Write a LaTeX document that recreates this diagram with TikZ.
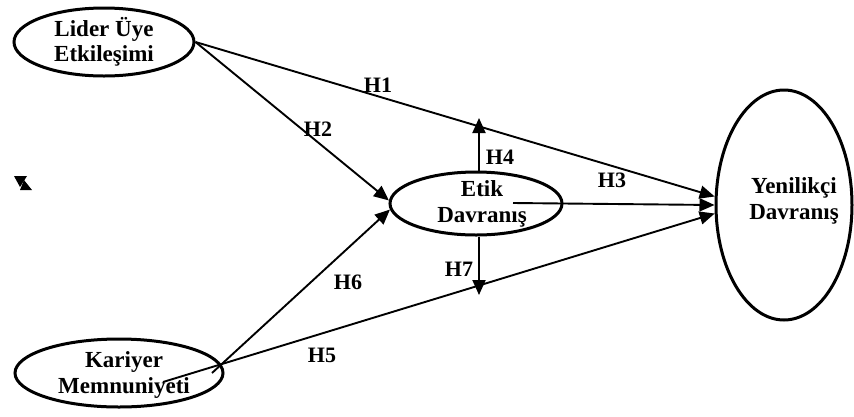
\documentclass[tikz,border=0pt]{standalone}
\usepackage{fontspec}
\setmainfont{Liberation Serif}
\usetikzlibrary{shapes.geometric,arrows.meta}
\begin{document}
\begin{tikzpicture}[x=1pt,y=-1pt,
 construct/.style={ellipse,draw,line width=3pt,inner sep=0pt},
 txt/.style={font=\fontsize{23}{25.5}\selectfont\bfseries,align=center,inner sep=0pt},
 hyp/.style={line width=1.9pt,-{Triangle[length=15pt,width=13pt]}},
 lbl/.style={font=\fontsize{22}{26}\selectfont\bfseries,inner sep=0pt}]
\useasboundingbox[fill=white] (0,0) rectangle (854,416);
% constructs
\node[construct,minimum width=180pt,minimum height=68pt] (lider) at (104,42) {};
\node[construct,minimum width=208pt,minimum height=68pt] (kar) at (119,373) {};
\node[construct,minimum width=172pt,minimum height=63pt] (etik) at (476,203.5) {};
\node[construct,minimum width=136pt,minimum height=230pt] (yen) at (784,205) {};
% texts
\node[txt] (liderT) at (104,42) {Lider Üye\\Etkileşimi};
\node[txt] (karT) at (124,375) {Kariyer\\Memnuniyeti};
\node[txt] (etikT) at (482,204) {Etik\\Davranış};
\node[txt] (yenT) at (794,201) {Yenilikçi\\Davranış};
% free ends
\coordinate (h4tip) at (479,118);
\coordinate (h7tip) at (479,295);
\coordinate (h3s) at (513,203);
\coordinate (h5s) at (163,382);
\coordinate (h6s) at (212,373);
% paths
\draw[hyp] (lider.east) -- (yen.173);
\draw[hyp] (lider.east) -- (etik.178);
\draw[hyp] (h3s) -- (yen.west);
\draw[hyp] (h4tip |- etik.north) -- (h4tip);
\draw[hyp] (h7tip |- etik.south) -- (h7tip);
\draw[hyp] (h5s) -- (yen.187);
\draw[hyp] (h6s) -- (etik.184);
% labels
\node[lbl] (l1) at (378,85) {H1};
\node[lbl] (l2) at (318,129) {H2};
\node[lbl] (l4) at (500,157) {H4};
\node[lbl] (l3) at (612,180) {H3};
\node[lbl] (l7) at (459,269) {H7};
\node[lbl] (l6) at (348,282) {H6};
\node[lbl] (l5) at (322,355) {H5};
% stray mark
\fill (14,176) -- (27,176) -- (20,187) -- cycle;
\fill (24,180) -- (32,190) -- (20,190) -- cycle;
\end{tikzpicture}
\end{document}
